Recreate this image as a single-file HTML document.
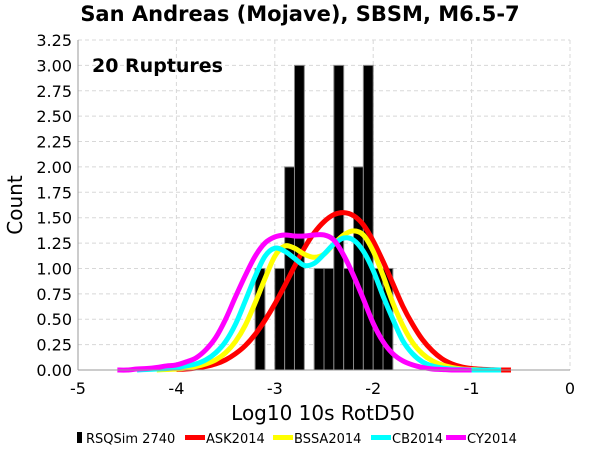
<!DOCTYPE html>
<html><head><meta charset="utf-8"><style>
body{margin:0;background:#fff;}
svg{display:block;font-family:"DejaVu Sans","Liberation Sans",sans-serif;}
</style></head><body>
<svg id="chart" width="600" height="450" viewBox="0 0 600 450">
<text x="300" y="21" text-anchor="middle" font-size="21" font-weight="bold">San Andreas (Mojave), SBSM, M6.5-7</text>
<g id="grid"></g>
<g id="bars"></g>
<g id="lines"></g>
<g id="axes"></g>
<text x="92" y="72" font-size="19" font-weight="bold">20 Ruptures</text>
<text transform="translate(22,205) rotate(-90)" text-anchor="middle" font-size="20">Count</text>
<text x="323" y="420" text-anchor="middle" font-size="20">Log10 10s RotD50</text>
<g id="legend"></g>
</svg>
<script>
const binStarts=[-3.2,-3.0,-2.9,-2.8,-2.6,-2.5,-2.4,-2.3,-2.2,-2.1,-2.0,-1.9];
const binCounts=[1,1,2,3,1,1,3,1,2,3,1,1];
const binWidth=0.1;
const xTicks=[-5,-4,-3,-2,-1,0];
const yTicks=[0,0.25,0.5,0.75,1,1.25,1.5,1.75,2,2.25,2.5,2.75,3,3.25];
const askX0=-4.0;
const askY=[0.005,0.01,0.02,0.035,0.06,0.1,0.16,0.24,0.35,0.49,0.65,0.83,1.02,1.2,1.35,1.46,1.53,1.55,1.52,1.43,1.27,1.07,0.85,0.63,0.45,0.3,0.19,0.11,0.06,0.03,0.015,0.007,0.003,0,0];
const bssaX0=-4.2;
const bssaY=[0,0.005,0.01,0.02,0.035,0.06,0.1,0.17,0.28,0.44,0.66,0.9,1.12,1.22,1.2,1.14,1.11,1.14,1.24,1.33,1.37,1.33,1.17,0.93,0.66,0.44,0.27,0.16,0.09,0.05,0.025,0.01,0.005,0,0];
const cbX0=-4.4;
const cbY=[0,0.005,0.01,0.015,0.025,0.04,0.06,0.1,0.17,0.28,0.45,0.68,0.92,1.12,1.2,1.17,1.1,1.03,1.05,1.14,1.24,1.3,1.28,1.17,0.98,0.73,0.5,0.29,0.16,0.08,0.04,0.02,0.01,0.005,0,0,0,0];
const cyX0=-4.6;
const cyY=[0,0,0.01,0.015,0.025,0.04,0.05,0.08,0.12,0.2,0.32,0.5,0.72,0.93,1.12,1.25,1.31,1.33,1.32,1.32,1.33,1.33,1.28,1.13,0.93,0.7,0.46,0.28,0.16,0.09,0.05,0.025,0.01,0.005,0,0,0];
const seriesNames=["ASK2014","BSSA2014","CB2014","CY2014"];
const seriesColors=["#ff0000","#ffff00","#00ffff","#ff00ff"];

const NS="http://www.w3.org/2000/svg";
const L=78,R=570,T=40,B=370;
const xs=v=>L+(v+5)/5*(R-L);
const ys=v=>B-v/3.25*(B-T);
function mk(tag,attrs,parent){const e=document.createElementNS(NS,tag);for(const k in attrs)e.setAttribute(k,attrs[k]);parent.appendChild(e);return e;}
const grid=document.getElementById('grid'),bars=document.getElementById('bars'),lines=document.getElementById('lines'),axes=document.getElementById('axes'),legend=document.getElementById('legend');
yTicks.forEach(t=>{
  if(t>0){const g=mk('line',{x1:L,x2:R,y1:ys(t),y2:ys(t),stroke:'#d8d8d8','stroke-dasharray':'4,3'},grid);
  
  }
  const tx=mk('text',{x:L-6,y:ys(t)+6,'text-anchor':'end','font-size':'16'},axes);tx.textContent=t.toFixed(2);
  
  
});
xTicks.forEach(t=>{
  if(t>-5){const g=mk('line',{x1:xs(t),x2:xs(t),y1:T,y2:B,stroke:'#d8d8d8','stroke-dasharray':'4,3'},grid);
  
  }
  const tx=mk('text',{x:xs(t),y:B+24,'text-anchor':'middle','font-size':'16'},axes);tx.textContent=String(t);
  
  
});
const ax1=mk('line',{x1:L,x2:L,y1:T,y2:B,stroke:'#999'},axes);


const ax2=mk('line',{x1:L,x2:R,y1:B,y2:B,stroke:'#999'},axes);


binStarts.forEach((s,i)=>{
  const x1=xs(s),x2=xs(s+binWidth);
  const r=mk('rect',{x:x1,y:ys(binCounts[i]),width:x2-x1,height:B-ys(binCounts[i]),fill:'#000',stroke:'#888','stroke-width':'1'},bars);
  
  
});
function smoothPath(pts){
  let d='M'+pts[0][0]+','+pts[0][1];
  for(let i=0;i<pts.length-1;i++){
    const p0=pts[Math.max(0,i-1)],p1=pts[i],p2=pts[i+1],p3=pts[Math.min(pts.length-1,i+2)];
    const c1=[p1[0]+(p2[0]-p0[0])/6,p1[1]+(p2[1]-p0[1])/6];
    const c2=[p2[0]-(p3[0]-p1[0])/6,p2[1]-(p3[1]-p1[1])/6];
    d+=' C'+c1+' '+c2+' '+p2;
  }
  return d;
}
const allSeries=[[askX0,askY],[bssaX0,bssaY],[cbX0,cbY],[cyX0,cyY]];
allSeries.forEach(([x0,arr],k)=>{
  const pts=arr.map((v,i)=>[xs(x0+i*0.1),Math.min(B,ys(v))]);
  const p=mk('path',{d:smoothPath(pts),fill:'none',stroke:seriesColors[k],'stroke-width':'5','stroke-linejoin':'round'},lines);
  
  
});
const items=[["RSQSim 2740","#000"]].concat(seriesNames.map((n,i)=>[n,seriesColors[i]]));
const lx=[77,185,273,371,446];
items.forEach((it,i)=>{
  const g=mk('g',{},legend);
  
  
  if(i===0) mk('rect',{x:lx[i],y:432,width:5,height:11,fill:'#000'},g);
  else mk('rect',{x:lx[i],y:435,width:20,height:5,fill:it[1]},g);
  const t=mk('text',{x:lx[i]+(i===0?9:21),y:443,'font-size':'13'},g);t.textContent=it[0];
});
</script>
</body></html>
